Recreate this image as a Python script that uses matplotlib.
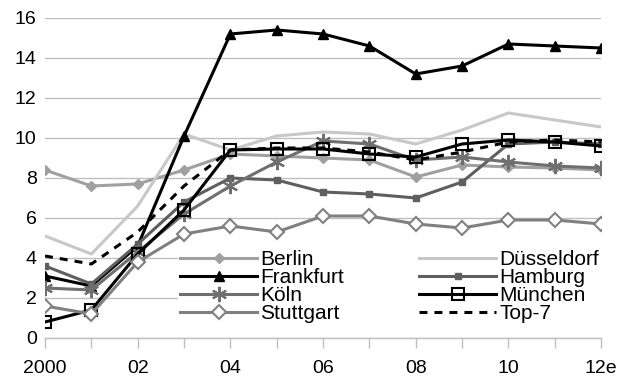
import matplotlib.pyplot as plt

plt.rcParams['font.family'] = ['Liberation Sans', 'DejaVu Sans']

years = list(range(2000, 2013))
tick_labels = ["2000", "", "02", "", "04", "", "06", "", "08", "", "10", "", "12e"]

berlin = [8.4, 7.6, 7.7, 8.4, 9.2, 9.1, 9.0, 8.9, 8.05, 8.65, 8.55, 8.5, 8.4]
duesseldorf = [5.1, 4.2, 6.6, 10.2, 9.4, 10.1, 10.3, 10.2, 9.7, 10.4, 11.25, 10.9, 10.55]
frankfurt = [3.1, 2.6, 4.6, 10.1, 15.2, 15.4, 15.2, 14.6, 13.2, 13.6, 14.7, 14.6, 14.5]
hamburg = [3.6, 2.7, 4.7, 6.8, 8.0, 7.9, 7.3, 7.2, 7.0, 7.8, 9.7, 9.8, 9.7]
koeln = [2.5, 2.4, 4.3, 6.2, 7.6, 8.8, 9.85, 9.7, 8.9, 9.05, 8.8, 8.6, 8.5]
muenchen = [0.8, 1.4, 4.2, 6.4, 9.4, 9.45, 9.45, 9.2, 9.05, 9.7, 9.9, 9.8, 9.6]
stuttgart = [1.6, 1.2, 3.8, 5.2, 5.6, 5.3, 6.1, 6.1, 5.7, 5.5, 5.9, 5.9, 5.7]
top7 = [4.1, 3.7, 5.3, 7.6, 9.4, 9.5, 9.5, 9.3, 8.9, 9.3, 9.8, 9.9, 9.8]

fig = plt.figure(figsize=(6.21, 3.82), dpi=100)
ax = fig.add_axes([0.0725, 0.1152, 0.8955, 0.8377])

lw = 2.2
h_ber, = ax.plot(years, berlin, color="#a0a0a0", lw=lw, marker="D", ms=5, label="Berlin")
h_due, = ax.plot(years, duesseldorf, color="#c8c8c8", lw=lw, label="Düsseldorf")
h_fra, = ax.plot(years, frankfurt, color="black", lw=lw, marker="^", ms=7, label="Frankfurt")
h_ham, = ax.plot(years, hamburg, color="#5f5f5f", lw=lw, marker="s", ms=5, label="Hamburg")
h_koe, = ax.plot(years, koeln, color="#6f6f6f", lw=lw, marker=(6, 2, 0), ms=11, mew=1.5,
                 label="Köln")
h_mue, = ax.plot(years, muenchen, color="black", lw=lw, marker="s", ms=8, mfc="none",
                 mec="black", mew=1.5, label="München")
h_stu, = ax.plot(years, stuttgart, color="#808080", lw=lw, marker="D", ms=7, mfc="white",
                 mew=1.5, label="Stuttgart")
h_top, = ax.plot(years, top7, color="black", lw=lw, dashes=[2.6, 2.3], label="Top-7")

ax.set_xlim(2000, 2012)
ax.set_ylim(0, 16)
ax.set_yticks(range(0, 17, 2))
ax.set_xticks(years)
ax.set_xticklabels(tick_labels)
ax.tick_params(axis="y", length=0, labelsize=14, pad=6)
ax.tick_params(axis="x", length=7, width=1, color="#bfbfbf", direction="out", labelsize=14, pad=9)
ax.grid(axis="y", color="#c0c0c0", lw=1)
ax.set_axisbelow(True)
for s in ["top", "right", "left"]:
    ax.spines[s].set_visible(False)
ax.spines["bottom"].set_color("#bfbfbf")
ax.spines["bottom"].set_linewidth(1)

# legend is filled row by row in the original
handles = [h_ber, h_fra, h_koe, h_stu, h_due, h_ham, h_mue, h_top]
leg = ax.legend(handles=handles, labels=[h.get_label() for h in handles], ncol=2,
                loc="lower right", bbox_to_anchor=(1.0, 0.04), frameon=True,
                fontsize=15, handlelength=3.7, handletextpad=0.15, labelspacing=-0.05,
                columnspacing=3.6, borderpad=0.1, borderaxespad=0)
leg.get_frame().set_edgecolor("none")
leg.get_frame().set_facecolor("white")
leg.get_frame().set_alpha(1)

fig.savefig("out.png", dpi=100)
